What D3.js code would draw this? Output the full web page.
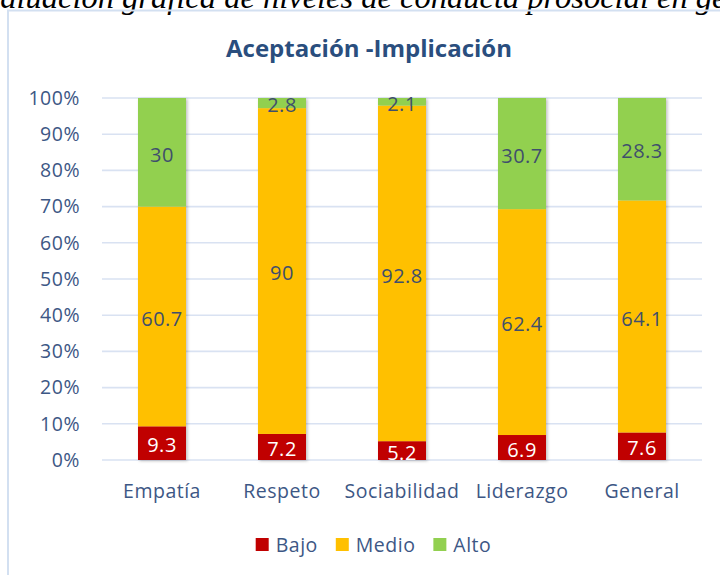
<!DOCTYPE html>
<html>
<head>
<meta charset="utf-8">
<script src="https://cdn.jsdelivr.net/npm/d3@7"></script>
<style>
  body { margin: 0; background: #fff; }
  svg { display: block; }
</style>
</head>
<body>
<svg id="chart" width="720" height="575"></svg>
<script>
// chart data
var categories = ["Empatía", "Respeto", "Sociabilidad", "Liderazgo", "General"];
var bajo = [9.3, 7.2, 5.2, 6.9, 7.6];
var medio = [60.7, 90, 92.8, 62.4, 64.1];
var alto = [30, 2.8, 2.1, 30.7, 28.3];
var seriesNames = ["Bajo", "Medio", "Alto"];
var yTicks = [0, 0.1, 0.2, 0.3, 0.4, 0.5, 0.6, 0.7, 0.8, 0.9, 1];

var colors = ["#C00000", "#FFC000", "#92D050"];
var labelColors = ["#ffffff", "#3F4F6C", "#3F4F6C"];
var textColor = "#3D5785";
var gridColor = "#D9E2F2";
var font = "'Open Sans', sans-serif";

var svg = d3.select("#chart");

// caption line above the chart, mostly cut off by the top edge
var capPrefix = "Evaluación ";
var capText = capPrefix + "gráfica de niveles de conducta prosocial en general";
var cap = svg.append("text")
  .attr("y", 8)
  .style("font-family", "'Liberation Serif', serif")
  .style("font-style", "italic")
  .style("font-size", "32.5px")
  .style("fill", "#000")
  .text(capPrefix);
var prefixW = cap.node().getComputedTextLength();
cap.attr("x", 114 - prefixW).text(capText);

// chart frame (left and top edges visible)
svg.append("rect")
  .attr("x", 8)
  .attr("y", 10.5)
  .attr("width", 760)
  .attr("height", 620)
  .style("fill", "none")
  .style("stroke", "#D3E0F1")
  .style("stroke-width", 2);

// title
svg.append("text")
  .attr("x", 369)
  .attr("y", 57)
  .attr("text-anchor", "middle")
  .style("font-family", font)
  .style("font-weight", "bold")
  .style("font-size", "24px")
  .style("fill", "#2A4E7E")
  .text("Aceptación -Implicación");

var plotLeft = 102, plotRight = 702, plotTop = 98, plotBottom = 460;

var x = d3.scaleBand()
  .domain(categories)
  .range([plotLeft, plotRight])
  .paddingInner(0.6)
  .paddingOuter(0.3);

var y = d3.scaleLinear()
  .domain([0, 1])
  .range([plotBottom, plotTop]);

// gridlines
svg.append("g")
  .selectAll("line")
  .data(yTicks)
  .enter()
  .append("line")
  .attr("x1", plotLeft)
  .attr("x2", plotRight)
  .attr("y1", function (d) { return y(d); })
  .attr("y2", function (d) { return y(d); })
  .style("stroke", gridColor)
  .style("stroke-width", 1.6);

// y axis labels
var yAxis = svg.append("g")
  .attr("transform", "translate(" + (plotLeft - 22) + ",0)")
  .call(d3.axisLeft(y).tickValues(yTicks).tickFormat(d3.format(".0%")).tickSize(0).tickPadding(0));
yAxis.select(".domain").remove();
yAxis.selectAll("text")
  .style("font-family", font)
  .style("font-size", "19.5px")
  .style("letter-spacing", "0.5px")
  .style("fill", textColor);

// x axis labels
var xAxis = svg.append("g")
  .attr("transform", "translate(0," + (plotBottom + 20) + ")")
  .call(d3.axisBottom(x).tickSize(0).tickPadding(0));
xAxis.select(".domain").remove();
xAxis.selectAll("text")
  .attr("dy", "0.93em")
  .style("font-family", font)
  .style("font-size", "19.5px")
  .style("letter-spacing", "0.5px")
  .style("fill", textColor);

// stacked data
var rows = categories.map(function (c, i) {
  return { cat: c, Bajo: bajo[i], Medio: medio[i], Alto: alto[i] };
});
var stack = d3.stack().keys(seriesNames).offset(d3.stackOffsetExpand);
var layers = stack(rows);

var defs = svg.append("defs");
var shadow = defs.append("filter")
  .attr("id", "shadow")
  .attr("x", "-20%").attr("y", "-5%")
  .attr("width", "150%").attr("height", "115%");
shadow.append("feDropShadow")
  .attr("dx", 1.5).attr("dy", 1)
  .attr("stdDeviation", 1.4)
  .attr("flood-color", "#000")
  .attr("flood-opacity", 0.25);

defs.append("clipPath")
  .attr("id", "plotclip")
  .append("rect")
  .attr("x", plotLeft).attr("y", plotTop - 20)
  .attr("width", plotRight - plotLeft).attr("height", plotBottom - plotTop + 20);

var barGroup = svg.append("g").attr("filter", "url(#shadow)");

layers.forEach(function (layer, li) {
  barGroup.append("g")
    .selectAll("rect")
    .data(layer)
    .enter()
    .append("rect")
    .attr("x", function (d) { return x(d.data.cat); })
    .attr("width", x.bandwidth())
    .attr("y", function (d) { return y(d[1]); })
    .attr("height", function (d) { return y(d[0]) - y(d[1]); })
    .style("fill", colors[li]);
});

// data labels
var labelGroup = svg.append("g").attr("clip-path", "url(#plotclip)");
layers.forEach(function (layer, li) {
  labelGroup.append("g")
    .selectAll("text")
    .data(layer)
    .enter()
    .append("text")
    .attr("x", function (d) { return x(d.data.cat) + x.bandwidth() / 2; })
    .attr("y", function (d) { return (y(d[0]) + y(d[1])) / 2 + 2; })
    .attr("dy", "0.36em")
    .attr("text-anchor", "middle")
    .style("font-family", font)
    .style("font-size", "20px")
    .style("letter-spacing", "0.5px")
    .style("fill", labelColors[li])
    .text(function (d) { return d.data[layer.key]; });
});

// legend
var legend = svg.append("g")
  .attr("class", "legend")
  .attr("transform", "translate(0,545)");
var items = legend.selectAll("g")
  .data(seriesNames)
  .enter()
  .append("g");
items.append("rect")
  .attr("width", 13)
  .attr("height", 13)
  .attr("y", -7)
  .style("fill", function (d, i) { return colors[i]; });
items.append("text")
  .attr("x", 20)
  .attr("dy", "0.36em")
  .style("font-family", font)
  .style("font-size", "19.5px")
  .style("letter-spacing", "0.5px")
  .style("fill", textColor)
  .text(function (d) { return d; });

var gap = 18;
var widths = [];
items.each(function () { widths.push(this.getBBox().width); });
var total = d3.sum(widths) + gap * (widths.length - 1);
var cx = 373.5 - total / 2;
items.attr("transform", function (d, i) {
  var pos = cx;
  cx += widths[i] + gap;
  return "translate(" + pos + ",0)";
});
</script>
</body>
</html>
